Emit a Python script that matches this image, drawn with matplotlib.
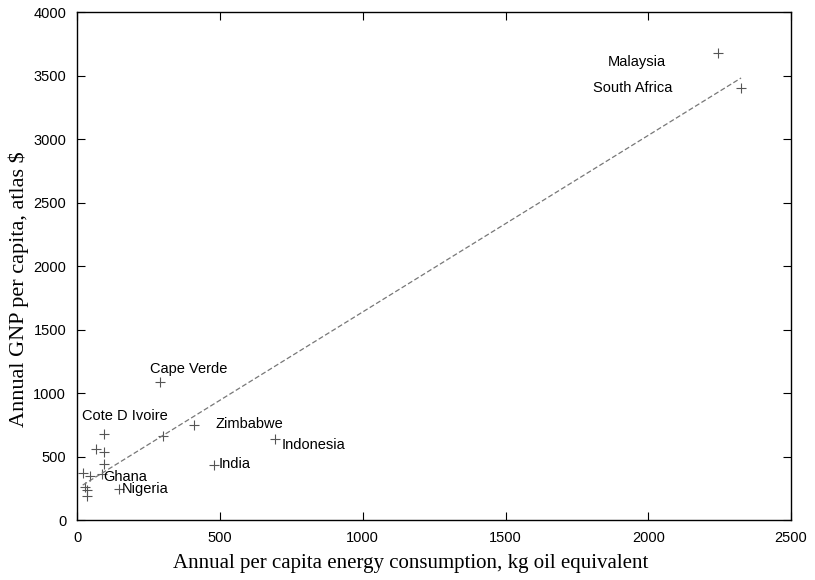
import numpy as np
import matplotlib
matplotlib.use('Agg')
import matplotlib.pyplot as plt

# energy use (kg oil equiv.) vs GNP per capita (atlas $)
energy = [2243, 2325, 291, 408, 302, 93, 64, 95, 95, 19, 45, 86,
          26, 34, 34, 145, 479, 693]
gnp = [3677, 3398, 1085, 746, 665, 678, 556, 538, 445, 372, 346, 362,
       262, 236, 189, 245, 433, 635]

# labelled countries and where their text sits (data coords)
label_names = ['Malaysia', 'South Africa', 'Cape Verde', 'Cote D Ivoire',
               'Zimbabwe', 'Indonesia', 'India', 'Ghana', 'Nigeria']
label_x = [1858, 1806, 256, 16, 484, 715, 494, 90, 157]
label_y = [3606, 3400, 1191, 820, 757, 592, 442, 342, 245]

xticks = [0, 500, 1000, 1500, 2000, 2500]
yticks = [0, 500, 1000, 1500, 2000, 2500, 3000, 3500, 4000]

sans = 'Liberation Sans'
serif = 'Liberation Serif'

fig = plt.figure(figsize=(8.15, 5.8), dpi=100)
ax = fig.add_axes([0.0948, 0.1034, 0.8758, 0.8759])

x = np.array(energy)
y = np.array(gnp)
ax.plot(x, y, linestyle='none', marker='+', markersize=7, mew=0.8,
        color='#555555')

# least squares line over the data range
slope, icpt = np.polyfit(x, y, 1)
xf = np.array([x.min(), x.max()])
ax.plot(xf, icpt + slope * xf, linestyle=(0, (4, 2)), lw=0.9,
        color='#777777')

for name, lx, ly in zip(label_names, label_x, label_y):
    ax.text(lx, ly, name, ha='left', va='center', family=sans,
            fontsize=10.5, color='black')

ax.set_xlim(0, 2500)
ax.set_ylim(0, 4000)
ax.set_xticks(xticks)
ax.set_yticks(yticks)
ax.tick_params(direction='in', length=6, width=0.8, top=True, right=True,
               labelsize=10.5, pad=8)
for lab in ax.get_xticklabels() + ax.get_yticklabels():
    lab.set_family(sans)
for sp in ax.spines.values():
    sp.set_linewidth(1.0)

ax.set_xlabel('Annual per capita energy consumption, kg oil equivalent',
              family=serif, fontsize=15)
ax.set_ylabel('Annual GNP per capita, atlas $', family=serif,
              fontsize=16)
ax.xaxis.set_label_coords(0.4676, -0.066)
ax.yaxis.set_label_coords(-0.068, 0.455)

fig.savefig('out.png', dpi=100)
